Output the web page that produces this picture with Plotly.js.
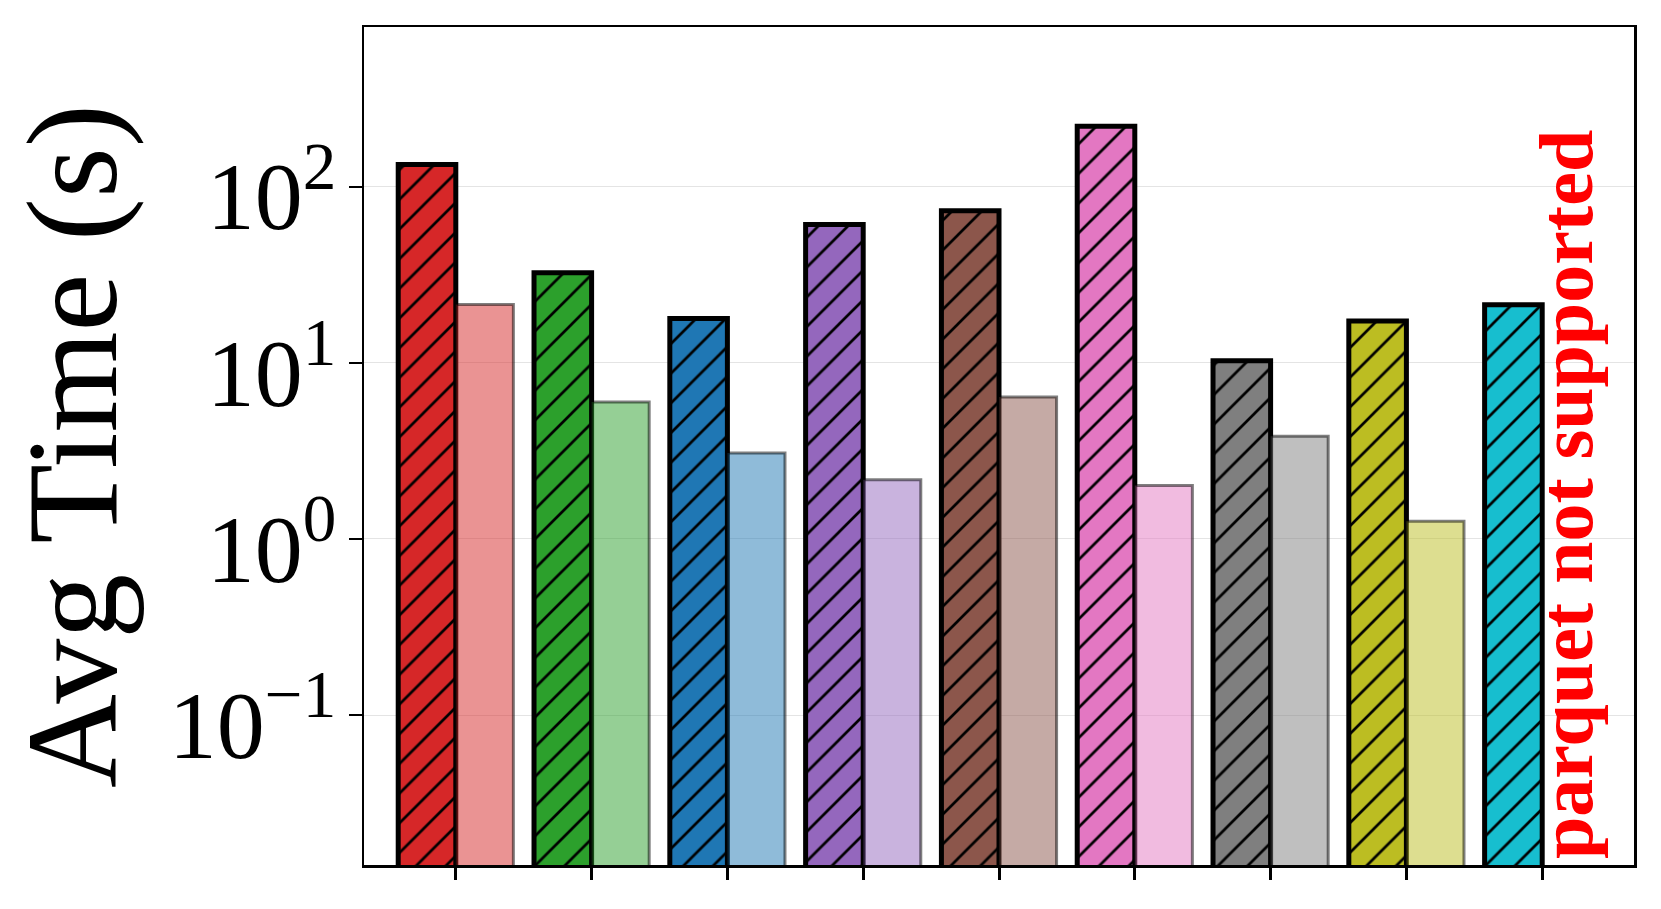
<!DOCTYPE html>
<html>
<head>
<meta charset="utf-8">
<script src="https://cdn.plot.ly/plotly-3.0.1.min.js"></script>
<style>
  html, body { margin: 0; padding: 0; background: #fff; }
  #chart { width: 1661px; height: 909px; }
</style>
</head>
<body>
<div id="chart"></div>
<script>
// bar groups (no tick labels on the x axis)
var groupIdx = [0, 1, 2, 3, 4, 5, 6, 7, 8];
var hatchedTimes = [134, 32.5, 17.9, 61.1, 73.1, 221, 10.3, 17.3, 21.4];
var lightTimes = [21.5, 6.0, 3.08, 2.17, 6.41, 2.01, 3.83, 1.26, null];
var barColors = ['#d62728', '#2ca02c', '#1f77b4', '#9467bd', '#8c564b', '#e377c2', '#7f7f7f', '#bcbd22', '#17becf'];
var yTickVals = [0.1, 1, 10, 100];
var yTickText = ['10<sup>\u22121</sup>', '10<sup>0</sup>', '10<sup>1</sup>', '10<sup>2</sup>'];

var barW = 0.424;
var serif = "'Liberation Serif', 'Times New Roman', serif";

function fade(hex, a) {
	var r = parseInt(hex.substr(1, 2), 16);
	var g = parseInt(hex.substr(3, 2), 16);
	var b = parseInt(hex.substr(5, 2), 16);
	return 'rgba(' + r + ',' + g + ',' + b + ',' + a + ')';
}

var data = [];

// hatched bars: one trace per group so the pattern keeps a black hatch on the bar colour
for (var i = 0; i < groupIdx.length; i++) {
	data.push({
		x: [groupIdx[i]],
		y: [hatchedTimes[i]],
		type: 'bar',
		width: barW,
		offset: -barW,
		marker: {
			color: barColors[i],
			line: {color: '#000', width: 5},
			pattern: {shape: '/', fgcolor: '#000', bgcolor: barColors[i], size: 21, solidity: 0.13, fillmode: 'replace'}
		},
		showlegend: false
	});
}

// light bars
data.push({
	x: groupIdx,
	y: lightTimes,
	type: 'bar',
	width: barW,
	offset: 0,
	marker: {
		color: barColors.map(function (c) { return fade(c, 0.5); }),
		line: {color: 'rgba(0,0,0,0.5)', width: 3}
	},
	showlegend: false
});

var layout = {
	width: 1661,
	height: 909,
	margin: {l: 364, r: 27, t: 27, b: 44},
	paper_bgcolor: '#fff',
	plot_bgcolor: '#fff',
	barmode: 'overlay',
	font: {family: serif, color: '#000'},
	xaxis: {
		range: [-0.676, 8.676],
		tickmode: 'array',
		tickvals: groupIdx,
		showticklabels: false,
		ticks: 'outside',
		ticklen: 12,
		tickwidth: 3,
		tickcolor: '#000',
		showgrid: false,
		zeroline: false,
		showline: true,
		mirror: true,
		linecolor: '#000',
		linewidth: 2.5
	},
	yaxis: {
		type: 'log',
		range: [-1.852, 2.908],
		tickmode: 'array',
		tickvals: yTickVals,
		ticktext: yTickText,
		ticks: 'outside',
		ticklen: 13,
		tickwidth: 2.5,
		tickcolor: '#000',
		ticklabelstandoff: -7,
		ticklabelshift: 9,
		tickfont: {family: serif, size: 96, color: '#000'},
		showgrid: true,
		gridcolor: '#e4e4e4',
		gridwidth: 1,
		zeroline: false,
		showline: true,
		mirror: true,
		linecolor: '#000',
		linewidth: 2.5,
		title: {text: 'Avg Time (s)', font: {family: serif, size: 130, color: '#000'}, standoff: 13}
	},
	annotations: [{
		text: '<b>parquet not supported</b>',
		xref: 'paper',
		yref: 'paper',
		x: 0.946,
		y: 0.442,
		xanchor: 'center',
		yanchor: 'middle',
		textangle: -90,
		showarrow: false,
		font: {family: serif, size: 76, color: '#ff0000'}
	}]
};

Plotly.newPlot('chart', data, layout, {staticPlot: true});
</script>
</body>
</html>
